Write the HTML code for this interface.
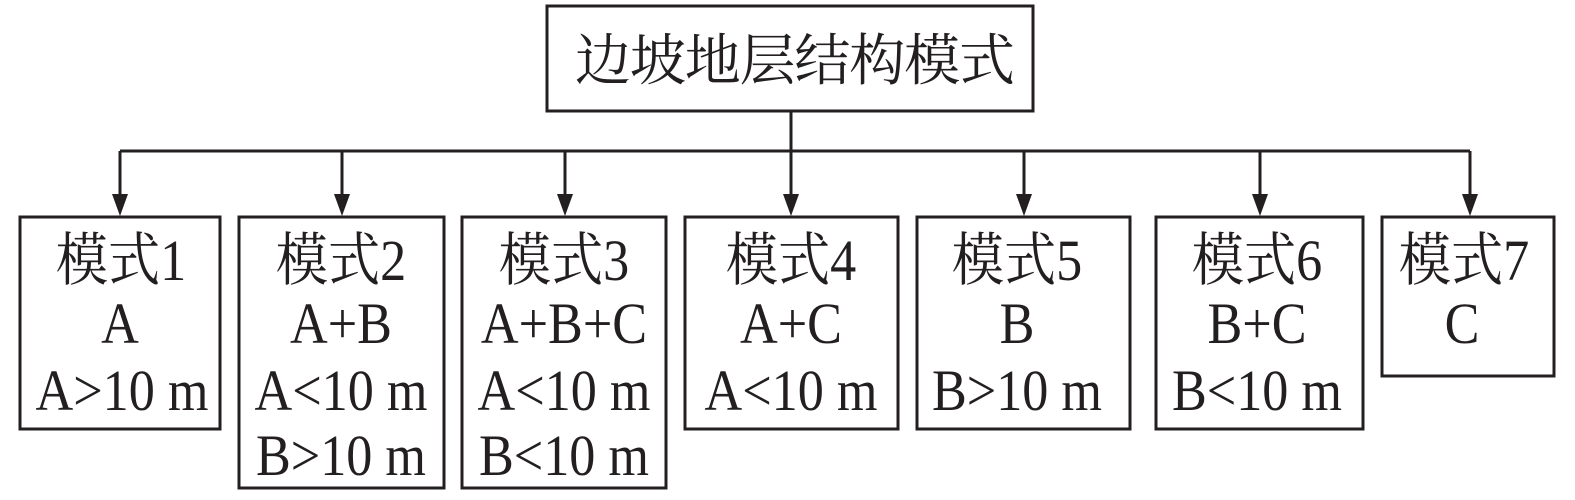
<!DOCTYPE html>
<html><head><meta charset="utf-8"><style>
html,body{margin:0;padding:0;background:#fff;}
svg text{font-family:"Liberation Serif","Noto Serif CJK SC",serif;fill:#231f20;}
</style></head><body>
<svg width="1575" height="495" viewBox="0 0 1575 495" xmlns="http://www.w3.org/2000/svg">
<g stroke="#231f20" stroke-width="3" fill="none">
<rect x="547" y="6" width="486" height="105"/>
<line x1="791" y1="111" x2="791" y2="151"/>
<line x1="120" y1="151" x2="1470" y2="151"/>
<line x1="120" y1="151" x2="120" y2="200"/>
<line x1="342" y1="151" x2="342" y2="200"/>
<line x1="565" y1="151" x2="565" y2="200"/>
<line x1="791" y1="151" x2="791" y2="200"/>
<line x1="1024" y1="151" x2="1024" y2="200"/>
<line x1="1260" y1="151" x2="1260" y2="200"/>
<line x1="1470" y1="151" x2="1470" y2="200"/>
<rect x="20" y="217" width="200" height="212"/>
<rect x="239" y="217" width="205" height="271"/>
<rect x="462" y="217" width="204" height="271"/>
<rect x="685" y="217" width="213" height="212"/>
<rect x="917" y="217" width="213" height="212"/>
<rect x="1156" y="217" width="207" height="212"/>
<rect x="1382" y="217" width="172" height="159"/>
</g>
<g fill="#231f20">
<polygon points="112,194 128,194 120,216"/>
<polygon points="334,194 350,194 342,216"/>
<polygon points="557,194 573,194 565,216"/>
<polygon points="783,194 799,194 791,216"/>
<polygon points="1016,194 1032,194 1024,216"/>
<polygon points="1252,194 1268,194 1260,216"/>
<polygon points="1462,194 1478,194 1470,216"/>
</g>
<text x="795" y="80" font-size="56" text-anchor="middle" textLength="440">边坡地层结构模式</text>
<g font-size="58" text-anchor="middle">
<text transform="translate(121,280) scale(0.9,1)">模式1</text>
<text transform="translate(120,343) scale(0.9,1)">A</text>
<text transform="translate(122,410) scale(0.9,1)">A&gt;10 m</text>
<text transform="translate(341,280) scale(0.9,1)">模式2</text>
<text transform="translate(341,343) scale(0.9,1)">A+B</text>
<text transform="translate(341,410) scale(0.9,1)">A&lt;10 m</text>
<text transform="translate(341,475) scale(0.9,1)">B&gt;10 m</text>
<text transform="translate(564,280) scale(0.9,1)">模式3</text>
<text transform="translate(564,343) scale(0.9,1)">A+B+C</text>
<text transform="translate(564,410) scale(0.9,1)">A&lt;10 m</text>
<text transform="translate(564,475) scale(0.9,1)">B&lt;10 m</text>
<text transform="translate(791,280) scale(0.9,1)">模式4</text>
<text transform="translate(791,343) scale(0.9,1)">A+C</text>
<text transform="translate(791,410) scale(0.9,1)">A&lt;10 m</text>
<text transform="translate(1017,280) scale(0.9,1)">模式5</text>
<text transform="translate(1017,343) scale(0.9,1)">B</text>
<text transform="translate(1017,410) scale(0.9,1)">B&gt;10 m</text>
<text transform="translate(1257,280) scale(0.9,1)">模式6</text>
<text transform="translate(1257,343) scale(0.9,1)">B+C</text>
<text transform="translate(1257,410) scale(0.9,1)">B&lt;10 m</text>
<text transform="translate(1464,280) scale(0.9,1)">模式7</text>
<text transform="translate(1462,343) scale(0.9,1)">C</text>
</g>
</svg>
</body></html>
